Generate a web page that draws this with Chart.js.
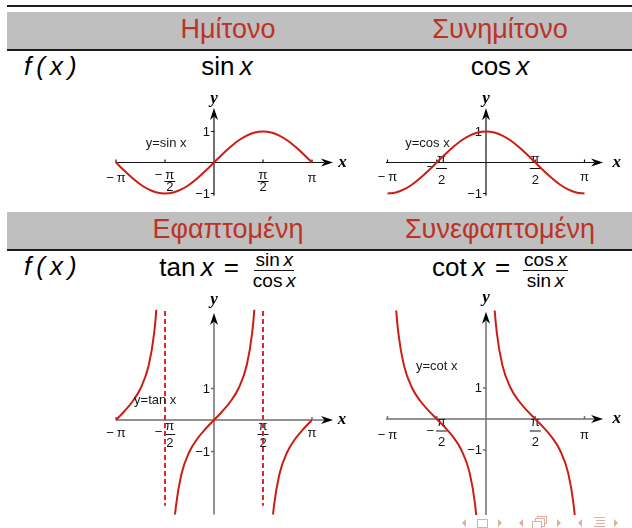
<!DOCTYPE html>
<html>
<head>
<meta charset="utf-8">
<script src="https://cdn.jsdelivr.net/npm/chart.js@4.4.1/dist/chart.umd.min.js"></script>
<style>
  html, body { margin: 0; padding: 0; }
  body { width: 632px; height: 528px; position: relative; overflow: hidden; background: #fff;
         font-family: "Liberation Sans", Arial, sans-serif; color: #000; }
  .rule { position: absolute; left: 7px; right: 0; background: #1c1c1c; }
  .band { position: absolute; left: 7px; right: 0; background: #bfbfbf; }
  .head { position: absolute; width: 320px; text-align: center; white-space: nowrap;
          font-size: 27px; line-height: 27px; color: #bd3226; }
  .cell { position: absolute; width: 320px; white-space: nowrap; font-size: 26px; line-height: 26px;
          display: flex; justify-content: center; align-items: flex-start; }
  .fx { position: absolute; left: 24px; font-size: 26px; line-height: 26px; font-style: italic;
        letter-spacing: 5px; white-space: nowrap; }
  .eq { margin: 0 13px 0 10px; }
  .frac { display: flex; flex-direction: column; align-items: center; margin-top: -4.1px; }
  .num, .den { font-size: 19px; line-height: 19px; padding: 0 1px; white-space: nowrap; }
  .num { border-bottom: 1.1px solid #111; padding-bottom: 1px; }
  canvas { position: absolute; }
  .nav { position: absolute; }
  .tl { width: 0; height: 0; border-top: 4px solid transparent; border-bottom: 4px solid transparent;
        border-right: 4.5px solid #e2ad9f; }
  .tr { width: 0; height: 0; border-top: 4px solid transparent; border-bottom: 4px solid transparent;
        border-left: 4.5px solid #e2ad9f; }
  .box { border: 1.3px solid #e2ad9f; background: #fff; }
  .bar { height: 1.5px; background: #e2ad9f; }
</style>
</head>
<body>
  <!-- table rules and shaded header rows -->
  <div class="rule" style="top:5.4px;height:1.5px"></div>
  <div class="band" style="top:12px;height:37.3px"></div>
  <div class="rule" style="top:49.3px;height:1.3px"></div>
  <div class="band" style="top:212px;height:37.3px"></div>
  <div class="rule" style="top:249.3px;height:1.3px"></div>

  <div class="head" style="left:68px;top:16.1px">Ημίτονο</div>
  <div class="head" style="left:340px;top:16.1px">Συνημίτονο</div>
  <div class="fx" style="top:53px">f(x)</div>
  <div class="cell" style="left:67px;top:53px"><span>sin&#8201;<i>x</i></span></div>
  <div class="cell" style="left:340px;top:53px"><span>cos&#8201;<i>x</i></span></div>

  <div class="head" style="left:68px;top:216.1px">Εφαπτομένη</div>
  <div class="head" style="left:340px;top:216.1px">Συνεφαπτομένη</div>
  <div class="fx" style="top:253px">f(x)</div>
  <div class="cell" style="left:68px;top:254px">
    <span>tan&#8201;<i>x</i></span><span class="eq">=</span>
    <span class="frac"><span class="num">sin&#8201;<i>x</i></span><span class="den">cos&#8201;<i>x</i></span></span>
  </div>
  <div class="cell" style="left:340px;top:254px">
    <span>cot&#8201;<i>x</i></span><span class="eq">=</span>
    <span class="frac"><span class="num">cos&#8201;<i>x</i></span><span class="den">sin&#8201;<i>x</i></span></span>
  </div>

  <canvas id="sinPlot"></canvas>
  <canvas id="cosPlot"></canvas>
  <canvas id="tanPlot"></canvas>
  <canvas id="cotPlot"></canvas>

  <!-- navigation symbols -->
  <div class="nav tl" style="left:461.5px;top:519px"></div>
  <div class="nav box" style="left:476.5px;top:518.5px;width:9px;height:7px"></div>
  <div class="nav tr" style="left:498px;top:519px"></div>
  <div class="nav tl" style="left:519px;top:519px"></div>
  <div class="nav box" style="left:537px;top:515.5px;width:8px;height:6.5px"></div>
  <div class="nav box" style="left:534.5px;top:518px;width:8px;height:6.5px"></div>
  <div class="nav box" style="left:532px;top:520.5px;width:8px;height:6.5px"></div>
  <div class="nav tr" style="left:556.5px;top:519px"></div>
  <div class="nav tl" style="left:577.5px;top:519px"></div>
  <div class="nav bar" style="left:593.5px;top:516.5px;width:11px"></div>
  <div class="nav bar" style="left:596px;top:519.5px;width:8.5px"></div>
  <div class="nav bar" style="left:596px;top:522.5px;width:8.5px"></div>
  <div class="nav bar" style="left:593.5px;top:525.5px;width:11px"></div>
  <div class="nav tr" style="left:614px;top:519px"></div>

<script>
// ---- values (angles in degrees) ----
const angleDeg  = [-180,-165,-150,-135,-120,-105,-90,-75,-60,-45,-30,-15,0,15,30,45,60,75,90,105,120,135,150,165,180];
const sinValues = [0,-0.26,-0.5,-0.71,-0.87,-0.97,-1,-0.97,-0.87,-0.71,-0.5,-0.26,0,0.26,0.5,0.71,0.87,0.97,1,0.97,0.87,0.71,0.5,0.26,0];
const cosValues = [-1,-0.97,-0.87,-0.71,-0.5,-0.26,0,0.26,0.5,0.71,0.87,0.97,1,0.97,0.87,0.71,0.5,0.26,0,-0.26,-0.5,-0.71,-0.87,-0.97,-1];

const tanAngleDeg = [-180,-165,-150,-135,-120,-110,-105,-100,-90,-80,-75,-70,-60,-45,-30,-15,0,15,30,45,60,70,75,80,90,100,105,110,120,135,150,165,180];
const tanValues   = [0,0.27,0.58,1,1.73,2.75,3.73,5.67,null,-5.67,-3.73,-2.75,-1.73,-1,-0.58,-0.27,0,0.27,0.58,1,1.73,2.75,3.73,5.67,null,-5.67,-3.73,-2.75,-1.73,-1,-0.58,-0.27,0];

const cotAngleDeg = [-170,-165,-160,-150,-135,-120,-105,-90,-75,-60,-45,-30,-20,-15,-10,0,10,15,20,30,45,60,75,90,105,120,135,150,160,165,170];
const cotValues   = [5.67,3.73,2.75,1.73,1,0.58,0.27,0,-0.27,-0.58,-1,-1.73,-2.75,-3.73,-5.67,null,5.67,3.73,2.75,1.73,1,0.58,0.27,0,-0.27,-0.58,-1,-1.73,-2.75,-3.73,-5.67];

// vertical asymptotes of tan x, and the extent of their dashed guides
const asymptoteDeg  = [-90, 90];
const asymptoteEnds = [3.46, -2.72];

// tick labels
const xTickDeg    = [-180, -90, 90, 180];
const xTickLabels = ['−π', '−π/2', 'π/2', 'π'];
const yTickValues = [1, -1];
const yTickLabels = ['1', '−1'];

const CURVE_RED = '#cc1d12';
const DASH_RED  = '#e8242b';
const SANS = '"Liberation Sans", Arial, sans-serif';

const toPoints = (xs, ys) => xs.map((x, i) => ({ x, y: ys[i] }));

function arrowHead(ctx, x, y, ang) {
  ctx.save();
  ctx.translate(x, y);
  ctx.rotate(ang);
  ctx.beginPath();
  ctx.moveTo(0, 0);
  ctx.lineTo(-12, -4);
  ctx.lineTo(-8.5, 0);
  ctx.lineTo(-12, 4);
  ctx.closePath();
  ctx.fillStyle = '#000';
  ctx.fill();
  ctx.restore();
}

// Draws cross-shaped axes through the origin, with arrows, ticks and pi-fraction labels.
const trigAxes = {
  id: 'trigAxes',
  beforeDatasetsDraw(chart, args, o) {
    const { ctx } = chart;
    const X = v => chart.scales.x.getPixelForValue(v);
    const Y = v => chart.scales.y.getPixelForValue(v);
    const x0 = X(0), y0 = Y(0);
    ctx.save();
    ctx.strokeStyle = o.axisColor;
    ctx.lineWidth = o.axisWidth;
    ctx.beginPath();
    ctx.moveTo(X(o.xAxisFrom), y0); ctx.lineTo(X(o.xArrowAt) - 9, y0);
    ctx.moveTo(x0, Y(o.yAxisFrom)); ctx.lineTo(x0, Y(o.yArrowAt) + 9);
    xTickDeg.forEach(t => { ctx.moveTo(X(t), y0); ctx.lineTo(X(t), y0 - 3); });
    yTickValues.forEach(t => { ctx.moveTo(x0, Y(t)); ctx.lineTo(x0 - 3, Y(t)); });
    ctx.stroke();
    arrowHead(ctx, X(o.xArrowAt), y0, 0);
    arrowHead(ctx, x0, Y(o.yArrowAt), -Math.PI / 2);

    ctx.fillStyle = '#000';
    ctx.font = 'bold italic 17px "Liberation Serif", "DejaVu Serif", serif';
    ctx.textAlign = 'center';
    ctx.textBaseline = 'middle';
    ctx.fillText('x', X(o.xNameAt), y0);
    ctx.fillText('y', x0, Y(o.yNameAt));

    ctx.font = '13px ' + SANS;
    ctx.fillStyle = '#111';
    const d = o.labelDy;
    xTickDeg.forEach((t, i) => {
      const txt = xTickLabels[i];
      const neg = txt.startsWith('−');
      const body = neg ? txt.slice(1) : txt;
      const px = X(t);
      const mw = neg ? ctx.measureText('−').width : 0;
      if (body.includes('/')) {
        const [nu, de] = body.split('/');
        const fw = Math.max(ctx.measureText(nu).width, ctx.measureText(de).width) + 2;
        const gap = neg ? 2 : 0;
        const left = px - (mw + gap + fw) / 2;
        ctx.textAlign = 'left';
        if (neg) ctx.fillText('−', left, y0 + d.minus);
        const fc = left + mw + gap + fw / 2;
        ctx.textAlign = 'center';
        ctx.fillText(nu, fc, y0 + d.pi);
        ctx.fillText(de, fc, y0 + d.two);
        ctx.fillRect(fc - fw / 2, y0 + d.bar - 0.5, fw, 1);
      } else {
        const gap = neg ? 3 : 0;
        const bw = ctx.measureText(body).width;
        const left = px - (mw + gap + bw) / 2;
        ctx.textAlign = 'left';
        if (neg) ctx.fillText('−', left, y0 + d.side);
        ctx.fillText(body, left + mw + gap, y0 + d.side);
      }
    });
    ctx.textAlign = 'right';
    yTickValues.forEach((v, i) => ctx.fillText(yTickLabels[i], x0 - 4, Y(v) + 0.5));
    ctx.restore();
  },
  afterDatasetsDraw(chart, args, o) {
    const { ctx } = chart;
    ctx.save();
    ctx.font = '13px ' + SANS;
    ctx.fillStyle = '#1a1a1a';
    ctx.textAlign = 'center';
    ctx.textBaseline = 'middle';
    ctx.fillText(o.caption, chart.scales.x.getPixelForValue(o.captionAt[0]),
                 chart.scales.y.getPixelForValue(o.captionAt[1]));
    ctx.restore();
  }
};

function curve(points, clip) {
  return {
    data: points, borderColor: CURVE_RED, borderWidth: 2, pointRadius: 0,
    cubicInterpolationMode: 'monotone', spanGaps: false, clip: clip
  };
}

function makePlot(id, frame, geo, datasets, axes) {
  const cv = document.getElementById(id);
  const [L, T, W, H] = frame;
  cv.width = W; cv.height = H;
  cv.style.left = L + 'px'; cv.style.top = T + 'px';
  const areaTop = geo.yZeroPx - geo.yUnitPx * geo.yMax;
  const areaBottom = geo.yZeroPx - geo.yUnitPx * geo.yMin;
  new Chart(cv, {
    type: 'line',
    data: { datasets },
    options: {
      responsive: false, animation: false, events: [],
      devicePixelRatio: 1,
      layout: { padding: {
        left: geo.xPx[0] - L, right: L + W - geo.xPx[1],
        top: areaTop - T, bottom: T + H - areaBottom } },
      scales: {
        x: { type: 'linear', min: -180, max: 180, display: false },
        y: { type: 'linear', min: geo.yMin, max: geo.yMax, display: false }
      },
      plugins: { legend: { display: false }, tooltip: { enabled: false }, trigAxes: axes }
    },
    plugins: [trigAxes]
  });
}

// y = sin x
makePlot('sinPlot', [95, 88, 265, 112],
  { xPx: [116, 312], yZeroPx: 162.5, yUnitPx: 31, yMin: -1.1, yMax: 1.1 },
  [curve(toPoints(angleDeg, sinValues), false)],
  { axisColor: '#151515', axisWidth: 1.2, xAxisFrom: -181, xArrowAt: 218.6, xNameAt: 236,
    yAxisFrom: -1.07, yArrowAt: 1.76, yNameAt: 2.05,
    labelDy: { side: 15.5, minus: 13, pi: 12.8, bar: 19, two: 25 },
    caption: 'y=sin x', captionAt: [-88, 0.63] });

// y = cos x
makePlot('cosPlot', [367, 88, 265, 112],
  { xPx: [387.5, 584.5], yZeroPx: 162.5, yUnitPx: 31, yMin: -1.1, yMax: 1.1 },
  [curve(toPoints(angleDeg, cosValues), false)],
  { axisColor: '#151515', axisWidth: 1.2, xAxisFrom: -183, xArrowAt: 214, xNameAt: 239,
    yAxisFrom: -1.07, yArrowAt: 1.75, yNameAt: 2.05,
    labelDy: { side: 14.5, minus: 4.5, pi: -3.5, bar: 6, two: 17.5 },
    caption: 'y=cos x', captionAt: [-107, 0.63] });

// y = tan x, with dashed asymptotes
const asymptoteSets = asymptoteDeg.map(a => ({
  data: asymptoteEnds.map(v => ({ x: a, y: v })), borderColor: DASH_RED, borderWidth: 2,
  borderDash: [5, 3], pointRadius: 0, tension: 0, clip: false
}));
makePlot('tanPlot', [95, 290, 265, 232],
  { xPx: [116, 312], yZeroPx: 420, yUnitPx: 31.5, yMin: -3.0, yMax: 3.5 },
  [curve(toPoints(tanAngleDeg, tanValues), 0), ...asymptoteSets],
  { axisColor: '#6f6f6f', axisWidth: 1.5, xAxisFrom: -180, xArrowAt: 218.6, xNameAt: 235,
    yAxisFrom: -3.0, yArrowAt: 3.4, yNameAt: 3.81,
    labelDy: { side: 13.5, minus: 12.5, pi: 6, bar: 14.5, two: 23.5 },
    caption: 'y=tan x', captionAt: [-108, 0.63] });

// y = cot x
makePlot('cotPlot', [367, 290, 265, 232],
  { xPx: [387.5, 584.5], yZeroPx: 419, yUnitPx: 31, yMin: -3.1, yMax: 3.5 },
  [curve(toPoints(cotAngleDeg, cotValues), 0)],
  { axisColor: '#6f6f6f', axisWidth: 1.5, xAxisFrom: -183, xArrowAt: 214, xNameAt: 239,
    yAxisFrom: -3.1, yArrowAt: 3.46, yNameAt: 3.9,
    labelDy: { side: 16, minus: 12, pi: 3.5, bar: 12, two: 23.5 },
    caption: 'y=cot x', captionAt: [-90, 1.68] });
</script>
</body>
</html>
